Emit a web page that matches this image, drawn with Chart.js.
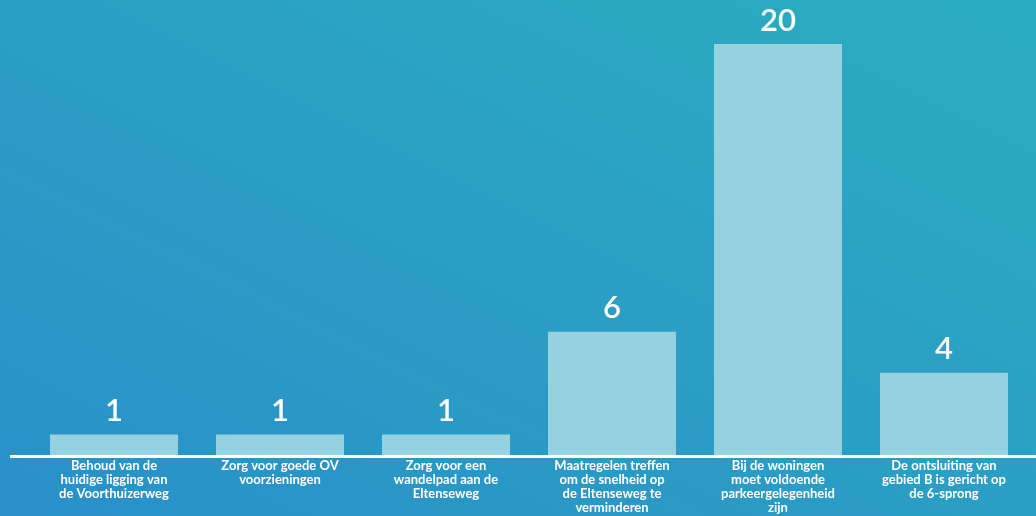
<!DOCTYPE html>
<html>
<head>
<meta charset="utf-8">
<script src="https://cdn.jsdelivr.net/npm/chart.js"></script>
<style>
  html, body { margin: 0; padding: 0; }
  body {
    width: 1036px; height: 516px; overflow: hidden;
    background: linear-gradient(to top right, #2990c9, #2cadbf);
  }
  canvas { display: block; }
</style>
</head>
<body>
<canvas id="michart" width="1036" height="516"></canvas>
<script>
const categorieen = [
  ['Behoud van de', 'huidige ligging van', 'de Voorthuizerweg'],
  ['Zorg voor goede OV', 'voorzieningen'],
  ['Zorg voor een', 'wandelpad aan de', 'Eltenseweg'],
  ['Maatregelen treffen', 'om de snelheid op', 'de Eltenseweg te', 'verminderen'],
  ['Bij de woningen', 'moet voldoende', 'parkeergelegenheid', 'zijn'],
  ['De ontsluiting van', 'gebied B is gericht op', 'de 6-sprong']
]
const stemmen = [1, 1, 1, 6, 20, 4]
const yMax = 20

// waarde boven elke balk
const waardeLabels = {
  id: 'waardeLabels',
  afterDatasetsDraw(chart) {
    const ctx = chart.ctx
    const meta = chart.getDatasetMeta(0)
    ctx.save()
    ctx.fillStyle = '#ffffff'
    ctx.font = '600 31px Lato'
    ctx.textAlign = 'center'
    ctx.textBaseline = 'bottom'
    meta.data.forEach((bar, i) => {
      ctx.fillText(String(stemmen[i]), bar.x, bar.y - 8)
    })
    ctx.restore()
  }
}

// witte lijn onder de balken, loopt door tot de rand
const asLijn = {
  id: 'asLijn',
  afterDraw(chart) {
    const ctx = chart.ctx
    const y = chart.chartArea.bottom + 1.5
    ctx.save()
    ctx.strokeStyle = '#ffffff'
    ctx.lineWidth = 3
    ctx.beginPath()
    ctx.moveTo(10, y)
    ctx.lineTo(chart.width, y)
    ctx.stroke()
    ctx.restore()
  }
}

const data = {
  labels: categorieen,
  datasets: [{
    data: stemmen,
    backgroundColor: '#96d1e0',
    borderWidth: 0,
    categoryPercentage: 1,
    barPercentage: 0.771
  }]
}

const config = {
  type: 'bar',
  data,
  options: {
    responsive: false,
    animation: false,
    layout: { padding: { left: 31, right: 9, top: 44, bottom: 0 } },
    plugins: {
      legend: { display: false },
      tooltip: { enabled: false }
    },
    scales: {
      y: { display: false, min: 0, max: yMax },
      x: {
        grid: { display: false, drawTicks: false },
        border: { display: false },
        ticks: {
          color: '#ffffff',
          font: { family: 'Lato', size: 13, weight: 'bold', lineHeight: 1.08 },
          padding: 4,
          maxRotation: 0,
          autoSkip: false
        },
        afterFit(scale) { scale.height = 61 }
      }
    }
  },
  plugins: [waardeLabels, asLijn]
}

const chart1 = new Chart(document.getElementById('michart'), config)
</script>
</body>
</html>
